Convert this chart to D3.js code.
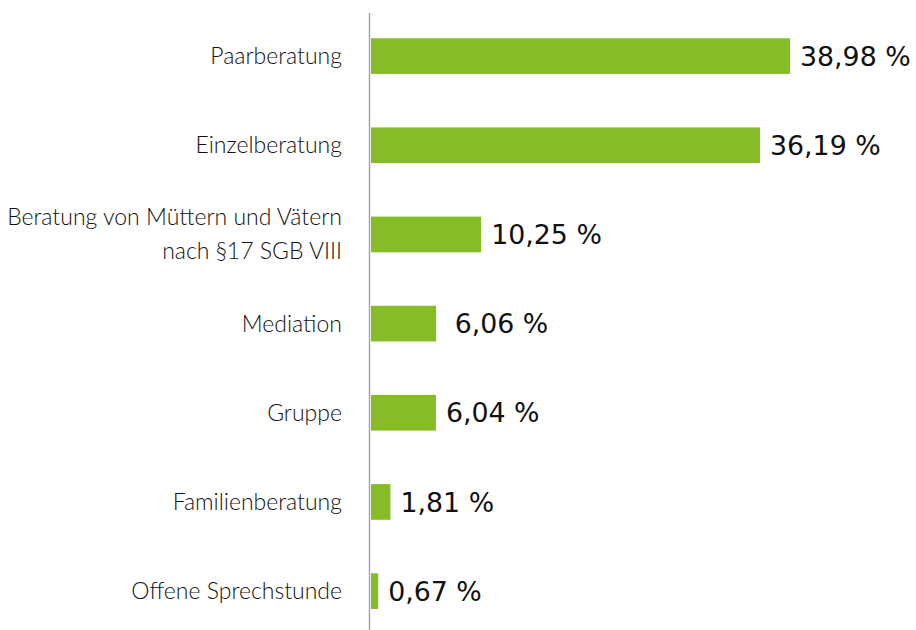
<!DOCTYPE html>
<html>
<head>
<meta charset="utf-8">
<script src="https://cdn.jsdelivr.net/npm/d3@7"></script>
<style>
  html, body { margin: 0; padding: 0; background: #fff; }
  svg { display: block; }
</style>
</head>
<body>
<svg id="chart" width="916" height="630"></svg>
<script>
const categories = [
  ["Paarberatung"],
  ["Einzelberatung"],
  ["Beratung von Müttern und Vätern", "nach §17 SGB VIII"],
  ["Mediation"],
  ["Gruppe"],
  ["Familienberatung"],
  ["Offene Sprechstunde"]
];
const values = [38.98, 36.19, 10.25, 6.06, 6.04, 1.81, 0.67];
const valueLabels = ["38,98 %", "36,19 %", "10,25 %", "\u00a06,06 %", "6,04 %", "1,81 %", "0,67 %"];

(function () {
const svg = d3.select("#chart");
const W = 916, H = 630;
const left = 371;
const y0 = 11.5, y1 = 635.7;

const x = d3.scaleLinear().domain([0, 38.98]).range([left, 790]);
const y = d3.scaleBand()
  .domain(d3.range(values.length))
  .range([y0, y1])
  .paddingInner(0.6)
  .paddingOuter(0.3);

// bars
svg.append("g").selectAll("rect")
  .data(values)
  .join("rect")
  .attr("x", x(0))
  .attr("y", (d, i) => y(i))
  .attr("width", d => x(d) - x(0))
  .attr("height", y.bandwidth())
  .attr("fill", "#86bc25");

// axis line
svg.append("line")
  .attr("x1", left - 1.5).attr("x2", left - 1.5)
  .attr("y1", 13).attr("y2", H)
  .attr("stroke", "#a6a6a6")
  .attr("stroke-width", 1.5);

// category labels
const lineH = 34;
const cat = svg.append("g")
  .attr("font-family", "Lato, 'Open Sans', sans-serif")
  .attr("font-weight", 300)
  .attr("font-size", 23)
  .attr("fill", "#111")
  .attr("text-anchor", "end");
categories.forEach((lines, i) => {
  const cy = y(i) + y.bandwidth() / 2;
  const t = cat.append("text");
  lines.forEach((ln, j) => {
    t.append("tspan")
      .attr("x", left - 29)
      .attr("y", cy + (j - (lines.length - 1) / 2) * lineH)
      .attr("dy", "0.35em")
      .text(ln);
  });
});

// value labels
svg.append("g")
  .attr("font-family", "'DejaVu Sans', Verdana, sans-serif")
  .attr("font-size", 26.8)
  .attr("fill", "#111")
  .selectAll("text")
  .data(values)
  .join("text")
  .attr("x", d => x(d) + 10)
  .attr("y", (d, i) => y(i) + y.bandwidth() / 2)
  .attr("dy", "0.36em")
  .text((d, i) => valueLabels[i]);
})();
</script>
</body>
</html>
